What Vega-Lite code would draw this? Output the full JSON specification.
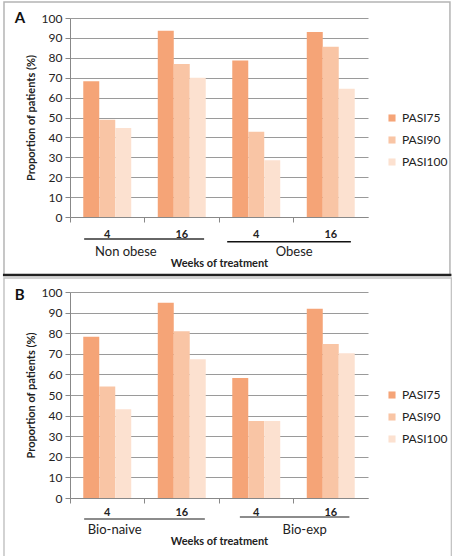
{
  "$schema": "https://vega.github.io/schema/vega-lite/v6.json",
  "padding": {"left": 1, "top": 1, "right": 2, "bottom": 0},
  "spacing": 0,
  "background": "white",
  "config": {
    "font": "Lato",
    "view": {"stroke": null},
    "axis": {"labelFont": "Lato", "titleFont": "Lato", "labelColor": "#222", "titleColor": "#222", "domainColor": "#888", "tickColor": "#888", "gridColor": "#9a9a9a", "labelOverlap": false},
    "axisY": {"tickCount": 10},
    "legend": {"labelFont": "Lato", "labelFontSize": 12, "labelColor": "#222", "symbolType": "square", "symbolSize": 50, "symbolStrokeWidth": 0, "rowPadding": 10, "padding": 0}
  },
  "resolve": {"scale": {"color": "independent"}, "legend": {"color": "independent"}},
  "vconcat": [
    {
      "width": 298,
      "height": 199,
      "layer": [
        {
          "data": {"values": [
            {"key": "Non obese|4", "series": "PASI75", "value": 68.2},
            {"key": "Non obese|4", "series": "PASI90", "value": 48.9},
            {"key": "Non obese|4", "series": "PASI100", "value": 44.7},
            {"key": "Non obese|16", "series": "PASI75", "value": 93.6},
            {"key": "Non obese|16", "series": "PASI90", "value": 76.9},
            {"key": "Non obese|16", "series": "PASI100", "value": 70.0},
            {"key": "Obese|4", "series": "PASI75", "value": 78.7},
            {"key": "Obese|4", "series": "PASI90", "value": 42.9},
            {"key": "Obese|4", "series": "PASI100", "value": 28.5},
            {"key": "Obese|16", "series": "PASI75", "value": 93.0},
            {"key": "Obese|16", "series": "PASI90", "value": 85.6},
            {"key": "Obese|16", "series": "PASI100", "value": 64.5}
          ]},
          "mark": {"type": "bar"},
          "encoding": {
            "x": {"field": "key", "type": "nominal", "sort": null,
              "scale": {"domain": ["Non obese|4", "Non obese|16", "Obese|4", "Obese|16"], "paddingInner": 0, "paddingOuter": 0},
              "axis": {"labelExpr": "split(datum.label, '|')[1]", "labelAngle": 0, "bandPosition": 0, "tickSize": 5, "labelPadding": 6, "labelFontSize": 11, "labelFontWeight": "bold", "title": "Weeks of treatment", "titleFontSize": 11, "titleFontWeight": "bold", "titlePadding": 18, "grid": false}},
            "xOffset": {"field": "series", "type": "nominal", "sort": ["PASI75", "PASI90", "PASI100"], "scale": {"paddingOuter": 0.83, "paddingInner": 0}},
            "y": {"field": "value", "type": "quantitative", "scale": {"domain": [0, 100], "nice": false},
              "axis": {"title": "Proportion of patients (%)", "tickCount": 10, "tickSize": 5, "labelPadding": 3, "labelFontSize": 12, "titleFontSize": 11, "titleFontWeight": "bold", "titlePadding": 5, "grid": true}},
            "color": {"field": "series", "type": "nominal",
              "scale": {"domain": ["PASI75", "PASI90", "PASI100"], "range": ["#F5A477", "#F9C5A5", "#FCE1D0"]},
              "legend": {"title": null, "orient": "none", "legendX": 316, "legendY": 94}}
          }
        },
        {
          "data": {"values": [{"panel": "A", "first": "Non obese|4", "last": "Obese|16"}]},
          "layer": [
            {"mark": {"type": "rect", "fill": null, "fillOpacity": 0, "stroke": "#b4b4b4", "strokeWidth": 1.5},
             "encoding": {"x": {"field": "first", "type": "nominal", "bandPosition": -0.886}, "x2": {"field": "last", "bandPosition": 2.1}, "y": {"datum": 108}, "y2": {"datum": -29}}},
            {"mark": {"type": "rule", "color": "#222", "strokeWidth": 2.5},
             "encoding": {"x": {"field": "first", "type": "nominal", "bandPosition": -0.9}, "x2": {"field": "last", "bandPosition": 2.12}, "y": {"datum": -29.2}}},
            {"mark": {"type": "text", "fontSize": 15, "fontWeight": "bold", "align": "left", "baseline": "alphabetic", "color": "#111"},
             "encoding": {"x": {"field": "first", "type": "nominal", "bandPosition": -0.74}, "y": {"datum": 97.5}, "text": {"field": "panel"}}}
          ]
        },
        {
          "data": {"values": [{"group": "Non obese", "start": "Non obese|4", "end": "Non obese|16"}]},
          "layer": [
            {"mark": {"type": "rule", "color": "#333", "strokeWidth": 1.5},
             "encoding": {"x": {"field": "start", "type": "nominal", "bandPosition": 0.19}, "x2": {"field": "end", "bandPosition": 0.8}, "y": {"datum": -11.1}}},
            {"mark": {"type": "text", "fontSize": 13, "baseline": "alphabetic", "color": "#222"},
             "encoding": {"x": {"field": "start", "type": "nominal", "bandPosition": 0.75}, "y": {"datum": -19.6}, "text": {"field": "group"}}}
          ]
        },
        {
          "data": {"values": [{"group": "Obese", "start": "Obese|4", "end": "Obese|16"}]},
          "layer": [
            {"mark": {"type": "rule", "color": "#111", "strokeWidth": 1.5},
             "encoding": {"x": {"field": "start", "type": "nominal", "bandPosition": 0.11}, "x2": {"field": "end", "bandPosition": 0.77}, "y": {"datum": -12.4}}},
            {"mark": {"type": "text", "fontSize": 13, "baseline": "alphabetic", "color": "#222"},
             "encoding": {"x": {"field": "end", "type": "nominal", "bandPosition": 0.01}, "y": {"datum": -19.6}, "text": {"field": "group"}}}
          ]
        }
      ]
    },
    {
      "width": 298,
      "height": 206,
      "layer": [
        {
          "data": {"values": [
            {"key": "Bio-naive|4", "series": "PASI75", "value": 78.3},
            {"key": "Bio-naive|4", "series": "PASI90", "value": 54.1},
            {"key": "Bio-naive|4", "series": "PASI100", "value": 43.1},
            {"key": "Bio-naive|16", "series": "PASI75", "value": 94.8},
            {"key": "Bio-naive|16", "series": "PASI90", "value": 80.9},
            {"key": "Bio-naive|16", "series": "PASI100", "value": 67.4},
            {"key": "Bio-exp|4", "series": "PASI75", "value": 58.2},
            {"key": "Bio-exp|4", "series": "PASI90", "value": 37.4},
            {"key": "Bio-exp|4", "series": "PASI100", "value": 37.4},
            {"key": "Bio-exp|16", "series": "PASI75", "value": 91.9},
            {"key": "Bio-exp|16", "series": "PASI90", "value": 74.7},
            {"key": "Bio-exp|16", "series": "PASI100", "value": 70.3}
          ]},
          "mark": {"type": "bar"},
          "encoding": {
            "x": {"field": "key", "type": "nominal", "sort": null,
              "scale": {"domain": ["Bio-naive|4", "Bio-naive|16", "Bio-exp|4", "Bio-exp|16"], "paddingInner": 0, "paddingOuter": 0},
              "axis": {"labelExpr": "split(datum.label, '|')[1]", "labelAngle": 0, "bandPosition": 0, "tickSize": 5, "labelPadding": 3, "labelFontSize": 11, "labelFontWeight": "bold", "title": "Weeks of treatment", "titleFontSize": 11, "titleFontWeight": "bold", "titlePadding": 18, "grid": false}},
            "xOffset": {"field": "series", "type": "nominal", "sort": ["PASI75", "PASI90", "PASI100"], "scale": {"paddingOuter": 0.83, "paddingInner": 0}},
            "y": {"field": "value", "type": "quantitative", "scale": {"domain": [0, 100], "nice": false},
              "axis": {"title": "Proportion of patients (%)", "tickCount": 10, "tickSize": 5, "labelPadding": 3, "labelFontSize": 12, "titleFontSize": 11, "titleFontWeight": "bold", "titlePadding": 5, "grid": true}},
            "color": {"field": "series", "type": "nominal",
              "scale": {"domain": ["PASI75", "PASI90", "PASI100"], "range": ["#F5A477", "#F9C5A5", "#FCE1D0"]},
              "legend": {"title": null, "orient": "none", "legendX": 316, "legendY": 97}}
          }
        },
        {
          "data": {"values": [{"panel": "B", "first": "Bio-naive|4", "last": "Bio-exp|16"}]},
          "layer": [
            {"mark": {"type": "rect", "fill": null, "fillOpacity": 0, "stroke": "#c4c4c4", "strokeWidth": 1.5},
             "encoding": {"x": {"field": "first", "type": "nominal", "bandPosition": -0.886}, "x2": {"field": "last", "bandPosition": 2.12}, "y": {"datum": 106.8}, "y2": {"datum": -29.4}}},
            {"mark": {"type": "text", "fontSize": 15, "fontWeight": "bold", "align": "left", "baseline": "alphabetic", "color": "#111"},
             "encoding": {"x": {"field": "first", "type": "nominal", "bandPosition": -0.74}, "y": {"datum": 96.1}, "text": {"field": "panel"}}}
          ]
        },
        {
          "data": {"values": [{"group": "Bio-naive", "start": "Bio-naive|4", "end": "Bio-naive|16"}]},
          "layer": [
            {"mark": {"type": "rule", "color": "#666", "strokeWidth": 1.5},
             "encoding": {"x": {"field": "start", "type": "nominal", "bandPosition": 0.19}, "x2": {"field": "end", "bandPosition": 0.81}, "y": {"datum": -10.2}}},
            {"mark": {"type": "text", "fontSize": 13, "baseline": "alphabetic", "color": "#222"},
             "encoding": {"x": {"field": "start", "type": "nominal", "bandPosition": 0.6}, "y": {"datum": -17.5}, "text": {"field": "group"}}}
          ]
        },
        {
          "data": {"values": [{"group": "Bio-exp", "start": "Bio-exp|4", "end": "Bio-exp|16"}]},
          "layer": [
            {"mark": {"type": "rule", "color": "#666", "strokeWidth": 1.5},
             "encoding": {"x": {"field": "start", "type": "nominal", "bandPosition": 0.28}, "x2": {"field": "end", "bandPosition": 0.75}, "y": {"datum": -9.2}}},
            {"mark": {"type": "text", "fontSize": 13, "baseline": "alphabetic", "color": "#222"},
             "encoding": {"x": {"field": "end", "type": "nominal", "bandPosition": 0.15}, "y": {"datum": -17.5}, "text": {"field": "group"}}}
          ]
        }
      ]
    }
  ]
}
